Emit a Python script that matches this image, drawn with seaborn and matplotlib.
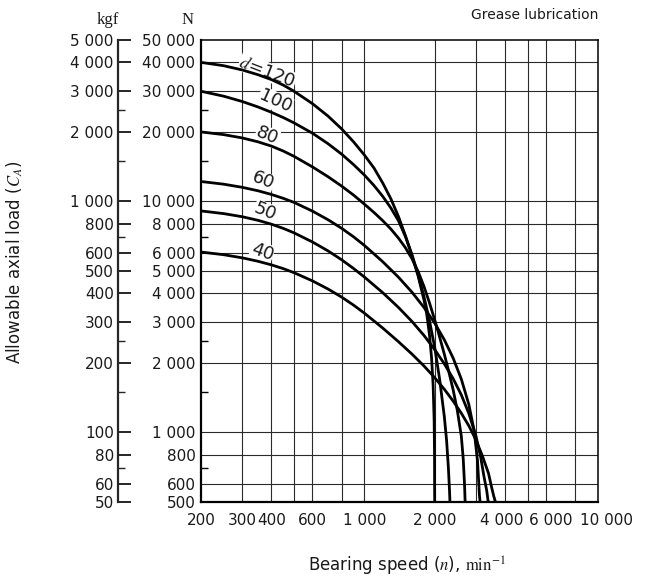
import numpy as np
import pandas as pd
import matplotlib
matplotlib.use("Agg")
import matplotlib.pyplot as plt
import matplotlib.transforms as mtransforms
import seaborn as sns
from matplotlib.ticker import FixedLocator, FixedFormatter, NullFormatter

# ---------------- data ----------------
bore_sizes = ["120", "100", "80", "60", "50", "40"]

speed_120 = [200, 250, 300, 350, 400, 450, 500, 600, 700, 800, 900, 1000, 1100, 1200, 1300, 1400,
             1500, 1600, 1700, 1800, 1850, 1900, 1940, 1970, 1990, 1997, 2000]
load_120 = [40000, 38700, 37100, 35400, 33700, 31900, 30000, 26500, 23400, 20600, 18100, 15900, 13950,
            12000, 10250, 8600, 7100, 5800, 4750, 3750, 3250, 2650, 2100, 1600, 1120, 800, 500]

speed_100 = [200, 250, 300, 350, 400, 450, 500, 600, 700, 800, 900, 1000, 1100, 1200, 1300, 1400,
             1500, 1600, 1700, 1800, 1900, 2000, 2100, 2200, 2250, 2290, 2315, 2325]
load_100 = [30000, 28560, 27090, 25670, 24330, 23080, 21890, 19740, 17770, 16020, 14430, 13020, 11720,
            10510, 9360, 8250, 7040, 5880, 4810, 3870, 3050, 2340, 1700, 1170, 920, 700, 560, 500]

speed_80 = [200, 250, 300, 350, 400, 450, 500, 600, 700, 800, 900, 1000, 1100, 1200, 1300, 1400,
            1500, 1600, 1700, 1800, 1900, 2000, 2100, 2200, 2300, 2400, 2500, 2600, 2650, 2685, 2700]
load_80 = [20000, 19470, 18840, 18130, 17370, 16530, 15680, 14110, 12790, 11650, 10650, 9740, 8960,
           8250, 7590, 6940, 6300, 5645, 4970, 4285, 3640, 3075, 2590, 2180, 1830, 1528, 1246, 966,
           769, 592, 500]

speed_60 = [200, 250, 300, 350, 400, 450, 500, 600, 700, 800, 900, 1000, 1200, 1400, 1600, 1800,
            2000, 2200, 2400, 2600, 2800, 2950, 3050, 3110, 3130]
load_60 = [12200, 11880, 11515, 11130, 10725, 10315, 9910, 9080, 8330, 7650, 7025, 6455, 5480, 4700,
           4045, 3477, 2975, 2518, 2097, 1703, 1323, 1019, 755, 532, 500]

speed_50 = [200, 250, 300, 350, 400, 450, 500, 600, 700, 800, 900, 1000, 1200, 1400, 1600, 1800,
            2000, 2200, 2400, 2600, 2800, 3000, 3150, 3250, 3340, 3390]
load_50 = [9100, 8860, 8590, 8290, 7975, 7645, 7315, 6676, 6106, 5590, 5123, 4710, 4025, 3477, 3022,
           2630, 2286, 1981, 1709, 1455, 1209, 970, 779, 646, 560, 500]

speed_40 = [200, 250, 300, 350, 400, 450, 500, 600, 700, 800, 900, 1000, 1200, 1400, 1600, 1800,
            2000, 2200, 2400, 2600, 2800, 3000, 3200, 3400, 3500, 3580, 3640]
load_40 = [6040, 5882, 5702, 5512, 5316, 5119, 4918, 4530, 4175, 3854, 3556, 3286, 2829, 2471, 2183,
           1940, 1727, 1538, 1367, 1212, 1069, 931, 792, 665, 583, 530, 500]

curve_labels = ["$d$=120", "100", "80", "60", "50", "40"]

x_tick_values = [200, 300, 400, 600, 1000, 2000, 4000, 6000, 10000]
x_tick_labels = ["200", "300", "400", "600", "1 000", "2 000", "4 000", "6 000", "10 000"]
x_grid_values = [300, 400, 500, 600, 800, 1000, 2000, 3000, 4000, 5000, 6000, 8000]
x_minor_values = [250, 700, 900, 1500, 2500, 7000, 9000]

n_tick_values = [500, 600, 800, 1000, 2000, 3000, 4000, 5000, 6000, 8000, 10000, 20000, 30000, 40000, 50000]
n_tick_labels = ["500", "600", "800", "1 000", "2 000", "3 000", "4 000", "5 000", "6 000", "8 000",
                 "10 000", "20 000", "30 000", "40 000", "50 000"]
n_minor_values = [700, 1500, 2500, 7000, 15000, 25000]

kgf_tick_values = [50, 60, 80, 100, 200, 300, 400, 500, 600, 800, 1000, 2000, 3000, 4000, 5000]
kgf_tick_labels = ["50", "60", "80", "100", "200", "300", "400", "500", "600", "800",
                   "1 000", "2 000", "3 000", "4 000", "5 000"]
kgf_minor_values = [70, 150, 250, 700, 1500, 2500]

# ---------------- long-form table ----------------
speeds = [speed_120, speed_100, speed_80, speed_60, speed_50, speed_40]
loads = [load_120, load_100, load_80, load_60, load_50, load_40]
frames = []
for d, s, l in zip(bore_sizes, speeds, loads):
    frames.append(pd.DataFrame({"speed": s, "load": l, "d": d}))
df = pd.concat(frames, ignore_index=True)

# ---------------- styling ----------------
sns.set_style("white")
plt.rcParams["font.family"] = ["DejaVu Sans"]
plt.rcParams["mathtext.fontset"] = "stix"
ink = "#1a1a1a"

W, H = 649, 578
fig = plt.figure(figsize=(W / 100, H / 100), dpi=100)
L, R, T, B = 201, 598, 40, 502
ax = fig.add_axes([L / W, (H - B) / H, (R - L) / W, (B - T) / H])

ax.set_xscale("log")
ax.set_yscale("log")

for v in x_grid_values:
    ax.axvline(v, color="#2a2a2a", lw=0.8, zorder=1)
for v in n_tick_values[1:-1]:
    ax.axhline(v, color="#2a2a2a", lw=0.8, zorder=1)

sns.lineplot(data=df, x="speed", y="load", hue="d", hue_order=bore_sizes,
             palette={d: "black" for d in bore_sizes}, estimator=None, sort=False,
             legend=False, lw=2.0, ax=ax, zorder=3)

ax.set_xlim(200, 10000)
ax.set_ylim(500, 50000)
ax.set_xlabel("")
ax.set_ylabel("")

ax.xaxis.set_major_locator(FixedLocator(x_tick_values))
ax.xaxis.set_major_formatter(FixedFormatter(x_tick_labels))
ax.xaxis.set_minor_locator(FixedLocator(x_minor_values))
ax.xaxis.set_minor_formatter(NullFormatter())
ax.yaxis.set_major_locator(FixedLocator(n_tick_values))
ax.yaxis.set_major_formatter(FixedFormatter(n_tick_labels))
ax.yaxis.set_minor_locator(FixedLocator(n_minor_values))
ax.yaxis.set_minor_formatter(NullFormatter())

ax.tick_params(axis="x", which="major", length=0, labelsize=11, pad=8, labelcolor=ink)
ax.tick_params(axis="y", which="major", length=0, labelsize=11, pad=4, labelcolor=ink)
ax.tick_params(axis="both", which="minor", direction="in", length=5, width=1.0, color="black")

for sp in ax.spines.values():
    sp.set_visible(True)
    sp.set_color("black")
    sp.set_linewidth(1.1)
ax.spines["left"].set_linewidth(1.6)
ax.spines["bottom"].set_linewidth(1.6)

# kgf axis on the far left
ax2 = ax.twinx()
ax2.set_yscale("log")
ax2.set_ylim(50, 5000)
for name in ["right", "top", "bottom"]:
    ax2.spines[name].set_visible(False)
ax2.spines["left"].set_visible(True)
ax2.spines["left"].set_position(("axes", (118 - L) / (R - L)))
ax2.spines["left"].set_linewidth(1.6)
ax2.yaxis.set_ticks_position("left")
ax2.yaxis.set_label_position("left")
ax2.yaxis.set_major_locator(FixedLocator(kgf_tick_values))
ax2.yaxis.set_major_formatter(FixedFormatter(kgf_tick_labels))
ax2.yaxis.set_minor_locator(FixedLocator(kgf_minor_values))
ax2.yaxis.set_minor_formatter(NullFormatter())
ax2.tick_params(axis="y", which="major", direction="in", length=9, width=1.4, labelsize=11, pad=3,
                labelcolor=ink)
ax2.tick_params(axis="y", which="minor", direction="in", length=5, width=1.0)

# curve labels
label_pos = [(385, 36400, -21), (415, 27200, -24), (383, 19200, -22),
             (368, 12300, -21), (376, 9030, -22), (365, 6060, -20)]
for txt, (xx, yy, rot) in zip(curve_labels, label_pos):
    ax.text(xx, yy, txt, rotation=rot, rotation_mode="anchor", ha="center", va="center",
            fontsize=13, color=ink, zorder=2,
            bbox=dict(facecolor="white", edgecolor="none", pad=0.2))

# texts around
fig.text(107.5 / W, 1 - 20 / H, "kgf", family="Liberation Serif", fontsize=12, ha="center", va="center", color=ink)
fig.text(187.5 / W, 1 - 20 / H, "N", family="Liberation Serif", fontsize=12, ha="center", va="center", color=ink)
fig.text(598 / W, 1 - 15 / H, "Grease lubrication", fontsize=10, ha="right", va="center", color=ink)
fig.text(15 / W, 1 - 262 / H, r"Allowable axial load ($C_A$)", rotation=90, fontsize=12,
         ha="center", va="center", color=ink)
fig.text(407 / W, 1 - 566 / H, r"Bearing speed ($n$), $\mathrm{min}^{-1}$", fontsize=12,
         ha="center", va="center", color=ink)

# nudge crowded x tick labels apart (pixels)
x_label_nudge = {4000: -3, 6000: 5, 10000: 9}
for tick, val in zip(ax.xaxis.get_major_ticks(), x_tick_values):
    dx = x_label_nudge.get(val, 0)
    if dx:
        tick.label1.set_transform(tick.label1.get_transform() +
                                  mtransforms.ScaledTranslation(dx / 100, 0, fig.dpi_scale_trans))

fig.savefig("out.png", dpi=100)
